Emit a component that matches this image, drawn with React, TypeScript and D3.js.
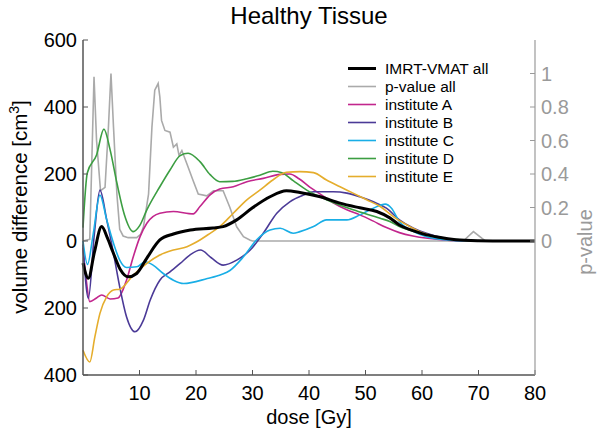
import React from "react";
import * as d3 from "d3";

// ---- data (dose [Gy], volume difference [cm3]) ----
const imrtVmatAll: [number, number][] = [
  [0, -66], [0.95, -111], [2, -35], [3.3, 43], [4.3, 10], [5.3, -33], [6.6, -85], [8, -107], [9.5, -97], [11.3, -51],
  [13.6, 3], [16, 21], [19, 33], [23, 39], [24.8, 43], [27.2, 63], [30, 99], [33.1, 132], [36, 150], [38.4, 145],
  [42, 132], [45.5, 113], [49, 99], [52, 88], [54.3, 69], [56, 48], [58, 33], [60, 22], [63, 11], [66, 4],
  [70, 1], [75, 0], [80, 0],
];
const pValueAll: [number, number][] = [
  [0, 0], [1.2, 0.01], [1.95, 0.98], [2.4, 0.6], [3.1, 0.3], [3.9, 0.32], [4.5, 0.68], [4.95, 1.0], [5.4, 0.68],
  [6, 0.28], [6.5, 0.07], [7.1, 0.03], [8, 0.02], [9.5, 0.02], [10.2, 0.04], [10.7, 0.085], [11.6, 0.28],
  [12.2, 0.68], [12.7, 0.9], [13.3, 0.94], [13.6, 0.86], [13.9, 0.72], [14.5, 0.66], [15.4, 0.65], [16, 0.56],
  [16.6, 0.58], [17, 0.51], [17.5, 0.54], [18.4, 0.46], [19.5, 0.36], [20.4, 0.28], [21.9, 0.27], [23.1, 0.3],
  [24.8, 0.3], [26, 0.2], [27.2, 0.085], [28.4, 0.026], [29.6, 0.005], [30, 0], [67.3, 0], [69.1, 0.056],
  [71.2, 0], [80, 0],
];
const instituteA: [number, number][] = [
  [0, -20], [0.6, -120], [1.2, -181], [2.4, -170], [3.3, -161], [4.8, -173], [6.2, -170], [7.7, -117], [8.9, -47],
  [10.1, 13], [11.3, 53], [13.6, 83], [16, 88], [19.5, 81], [20.7, 103], [22.5, 138], [24.2, 155], [26.6, 162],
  [29, 177], [31.9, 187], [34.9, 199], [36.6, 200], [38.3, 185], [40.2, 160], [42, 140], [44.2, 115], [46.7, 93],
  [49, 78], [51.3, 60], [53.7, 40], [56, 25], [58.4, 15], [61, 8], [65, 2], [70, 0], [80, 0],
];
const instituteB: [number, number][] = [
  [0, -10], [0.95, -171], [2, 20], [3, 152], [4.2, 63], [5.4, -37], [6.5, -137], [7.7, -226], [9.2, -271],
  [10.7, -236], [11.9, -176], [13.6, -117], [15.4, -92], [17.2, -67], [18.9, -42], [20.8, -27], [22.7, -50],
  [24.8, -72], [27.2, -57], [29.6, -27], [31.9, 23], [34.3, 83], [36.6, 117], [39, 137], [40.8, 147], [44.3, 147],
  [46.7, 143], [49, 132], [51.4, 117], [53.7, 98], [56, 63], [58.5, 38], [60.8, 23], [64, 8], [68, 1], [72, 0], [80, 0],
];
const instituteC: [number, number][] = [
  [0, 0], [0.8, -70], [1.8, 20], [3, 137], [4.2, 63], [5.4, -7], [6.5, -57], [7.7, -79], [9.5, -77], [11, -62],
  [12.4, -72], [14.2, -97], [16, -117], [17.8, -127], [22, -112], [24.5, -100], [26, -88], [28.4, -47], [30.7, 3],
  [33.1, 33], [34.9, 38], [37.2, 23], [38.4, 28], [40.8, 43], [43.1, 63], [46.7, 63], [49, 78], [51.4, 98],
  [53.5, 110], [54.6, 98], [56, 58], [58.5, 28], [60.8, 13], [64, 4], [68, 0], [80, 0],
];
const instituteD: [number, number][] = [
  [0, 40], [0.76, 203], [2.4, 257], [3.7, 334], [4.8, 272], [6, 173], [7.3, 80], [8.9, 28], [10, 45], [11.3, 93],
  [13.6, 162], [15.4, 212], [17.2, 255], [18.6, 262], [20.7, 237], [22.5, 198], [24.2, 177], [26.5, 178], [29, 186],
  [31.3, 196], [33.6, 208], [35.2, 204], [37.2, 180], [39.6, 152], [43.1, 123], [47.8, 93], [52.6, 68], [54.3, 58],
  [56, 43], [59.6, 24], [63, 10], [67, 3], [72, 0], [80, 0],
];
const instituteE: [number, number][] = [
  [0, -326], [1.2, -361], [2.1, -286], [3, -216], [4.2, -166], [5.4, -146], [6.5, -144], [8.9, -102], [11.3, -67],
  [13.6, -42], [16, -27], [18.4, -17], [20.7, 3], [22.5, 23], [24.2, 43], [26.6, 83], [29, 123], [31.3, 152],
  [33.6, 182], [36, 205], [38.4, 207], [40.8, 204], [43.1, 182], [45.5, 162], [47.8, 143], [50.2, 123], [52.6, 103],
  [54.9, 73], [57.3, 48], [59.6, 28], [62, 15], [65, 5], [70, 0], [80, 0],
];

const xTicks = [10, 20, 30, 40, 50, 60, 70, 80];
const yTicks = [600, 400, 200, 0, -200, -400];
const pTicks = [0, 0.2, 0.4, 0.6, 0.8, 1];

const legendLabels = ["IMRT-VMAT all", "p-value all", "institute A", "institute B", "institute C", "institute D", "institute E"];
const legendColors = ["#000000", "#aaaaaa", "#c2268d", "#4b3a97", "#19aee6", "#3c9e42", "#e5ad2c"];
const legendWidths = [3, 1.6, 1.6, 1.6, 1.6, 1.6, 1.6];

export default function App() {
  const W = 600, H = 432;
  const x = d3.scaleLinear().domain([0, 80]).range([83, 535]);
  const y = d3.scaleLinear().domain([-400, 600]).range([375, 40]);
  const p = d3.scaleLinear().domain([-0.8, 1.2]).range([375, 40]);
  const font = "'Liberation Sans', Arial, Helvetica, sans-serif";

  const smooth = d3.line<[number, number]>().x(d => x(d[0])).y(d => y(d[1])).curve(d3.curveMonotoneX);
  const pLine = d3.line<[number, number]>().x(d => x(d[0])).y(d => p(d[1]));

  const insts = [
    { d: instituteA, c: legendColors[2] },
    { d: instituteB, c: legendColors[3] },
    { d: instituteC, c: legendColors[4] },
    { d: instituteD, c: legendColors[5] },
    { d: instituteE, c: legendColors[6] },
  ];
  const axisColor = "#555";
  const grayAxis = "#9a9a9a";

  return (
    <svg width={W} height={H} style={{ position: "absolute", left: 0, top: 0 }} fontFamily={font}>
      <rect width={W} height={H} fill="#fff" />
      <text x={309} y={24} fontSize={24} textAnchor="middle">Healthy Tissue</text>

      {/* p-value line */}
      <path d={pLine(pValueAll) || ""} fill="none" stroke="#aaaaaa" strokeWidth={1.6} />
      {insts.map((s, i) => (
        <path key={i} d={smooth(s.d) || ""} fill="none" stroke={s.c} strokeWidth={1.6} />
      ))}
      <path d={smooth(imrtVmatAll) || ""} fill="none" stroke="#000" strokeWidth={3} />

      {/* left axis */}
      <line x1={83} x2={83} y1={y(600)} y2={y(-400)} stroke={axisColor} strokeWidth={1.5} />
      {yTicks.map(t => (
        <g key={t}>
          <line x1={83} x2={88} y1={y(t)} y2={y(t)} stroke={axisColor} strokeWidth={1} />
          <text x={77} y={y(t) + 7} fontSize={20} textAnchor="end">{Math.abs(t)}</text>
        </g>
      ))}
      {/* bottom axis */}
      <line x1={83} x2={535} y1={375} y2={375} stroke={axisColor} strokeWidth={1.5} />
      {xTicks.map(t => (
        <g key={t}>
          <line x1={x(t)} x2={x(t)} y1={375} y2={370} stroke={axisColor} strokeWidth={1} />
          <text x={x(t)} y={400} fontSize={20} textAnchor="middle">{t}</text>
        </g>
      ))}
      {/* right axis */}
      <line x1={535} x2={535} y1={40} y2={375} stroke={grayAxis} strokeWidth={1.2} />
      {pTicks.map(t => (
        <g key={t}>
          <line x1={530} x2={535} y1={p(t)} y2={p(t)} stroke={grayAxis} strokeWidth={1} />
          <text x={541} y={p(t) + 7} fontSize={20} fill={grayAxis}>{t === 0 || t === 1 ? String(t) : t.toFixed(1)}</text>
        </g>
      ))}

      {/* axis labels */}
      <text x={309} y={424} fontSize={20} textAnchor="middle">dose [Gy]</text>
      <text transform="translate(27,207) rotate(-90)" fontSize={20.5} textAnchor="middle">
        volume difference [cm<tspan dy={-8} fontSize={14}>3</tspan><tspan dy={8}>]</tspan>
      </text>
      <text transform="translate(592,242) rotate(-90)" fontSize={20} textAnchor="middle" fill={grayAxis}>p-value</text>

      {/* legend */}
      {legendLabels.map((l, i) => {
        const cy = 68.5 + i * 18;
        return (
          <g key={l}>
            <line x1={348} x2={376} y1={cy} y2={cy} stroke={legendColors[i]} strokeWidth={legendWidths[i]} />
            <text x={385} y={cy + 5.5} fontSize={15.5}>{l}</text>
          </g>
        );
      })}
    </svg>
  );
}
